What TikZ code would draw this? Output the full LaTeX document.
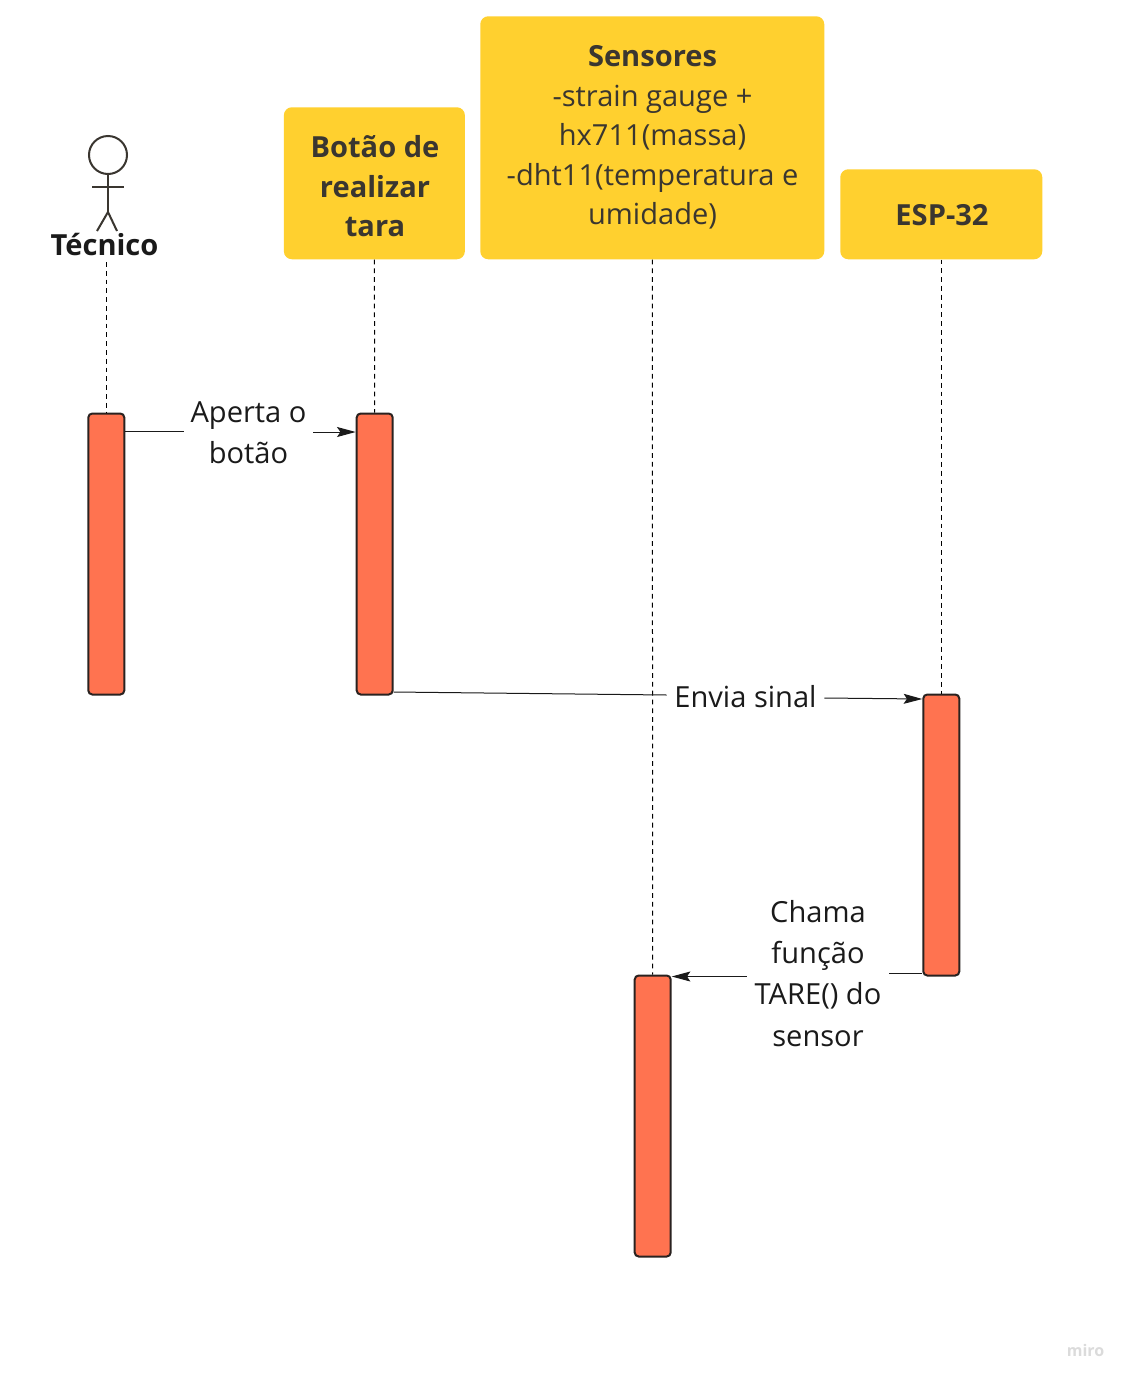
\documentclass[tikz,border=0pt]{standalone}
\usepackage{fontspec}
\setmainfont{Open Sans}
\usetikzlibrary{arrows.meta}
\definecolor{hdr}{HTML}{FFD02F}
\definecolor{hdrtxt}{HTML}{3A3630}
\definecolor{barfill}{HTML}{FF7350}
\definecolor{barline}{HTML}{2A2220}
\definecolor{inkc}{HTML}{1A1A1A}
\tikzset{
  x=0.75pt,y=-0.75pt,
  hdrbox/.style={fill=hdr,draw=none,rounded corners=6pt,inner sep=0pt,anchor=north west},
  hdrtext/.style={text=hdrtxt,align=center,inner sep=0pt,font=\fontsize{21.8}{29.6}\selectfont},
  actbar/.style={fill=barfill,draw=barline,line width=1.5pt,rounded corners=3pt,minimum width=27pt,minimum height=210.75pt,inner sep=0pt,anchor=north west},
  lifeline/.style={draw=black,line width=0.75pt,dash pattern=on 3.6pt off 3pt},
  msg/.style={draw=inkc,line width=0.75pt},
  msgarrow/.style={msg,-{Stealth[length=14pt,width=7.5pt,inset=2.5pt]}},
  msglabel/.style={text=inkc,align=center,inner sep=0pt,font=\fontsize{21.8}{30.8}\selectfont},
  stick/.style={draw=hdrtxt,line width=1.5pt},
}
\begin{document}
\begin{tikzpicture}
\useasboundingbox (0,0) rectangle (1129,1382);
\fill[white] (0,0) rectangle (1129,1382);
% header boxes
\node[hdrbox,minimum width=135.75pt,minimum height=114pt] (bBox) at (283.6,107) {};
\node[hdrbox,minimum width=258pt,minimum height=182.25pt] (sBox) at (480,16) {};
\node[hdrbox,minimum width=151.5pt,minimum height=67.5pt] (eBox) at (840,169) {};
\node[hdrtext] (bText) at (375,186.5) {\textbf{Botão de}\\\textbf{realizar}\\\textbf{tara}};
\node[hdrtext] (sText) at (652.5,137.5) {\textbf{Sensores}\\-strain gauge +\\hx711(massa)\\-dht11(temperatura e\\umidade)};
\node[hdrtext] (eText) at (942,215) {\textbf{ESP-32}};
% actor
\node[stick,circle,draw,minimum size=28.5pt,inner sep=0pt] (head) at (108,155) {};
\coordinate (hip) at (108,212);
\coordinate (armL) at (92,187);
\coordinate (armR) at (124,187);
\coordinate (legL) at (97,231);
\coordinate (legR) at (117,231);
\draw[stick] (head.south) -- (hip);
\draw[stick] (armL) -- (armR);
\draw[stick] (legL) -- (hip) -- (legR);
\node[text=inkc,inner sep=0pt,font=\fontsize{21.8}{26}\selectfont\bfseries] (tText) at (104.5,245) {Técnico};
% activation bars
\node[actbar] (tBar) at (87.3,412.5) {};
\node[actbar] (bBar) at (355.7,412.5) {};
\node[actbar] (eBar) at (922.3,693.5) {};
\node[actbar] (sBar) at (633.7,974.5) {};
% lifelines
\draw[lifeline] (tBar.north |- 0,262) -- (tBar.north);
\draw[lifeline] (bBox.south) -- (bBar.north);
\draw[lifeline] (sBox.south) -- (sBar.north);
\draw[lifeline] (eBar.north |- eBox.south) -- (eBar.north);
% labels
\node[msglabel,minimum width=96.75pt] (m1) at (248.5,432.5) {Aperta o\\botão};
\node[msglabel,minimum width=117.75pt] (m2) at (745.5,697) {Envia sinal};
\node[msglabel,minimum width=106.5pt] (m3) at (818,973.5) {Chama\\função\\TARE() do\\sensor};
% messages
\draw[msg] (tBar.east |- 0,431) -- (m1.west |- 0,431);
\draw[msgarrow] (m1.east |- 0,432) -- (bBar.west |- 0,432);
\draw[msg] (bBar.east |- 0,692) -- (m2.west |- 0,695);
\draw[msgarrow] (m2.east |- 0,698) -- (eBar.west |- 0,699);
\draw[msg] (eBar.west |- 0,973) -- (m3.east |- 0,973);
\draw[msgarrow] (m3.west |- 0,976.5) -- (sBar.east |- 0,976.5);
% watermark
\node[text=black!14,inner sep=0pt,font=\fontsize{12}{14}\selectfont\bfseries] (wm) at (1085.5,1350) {miro};
\end{tikzpicture}
\end{document}
